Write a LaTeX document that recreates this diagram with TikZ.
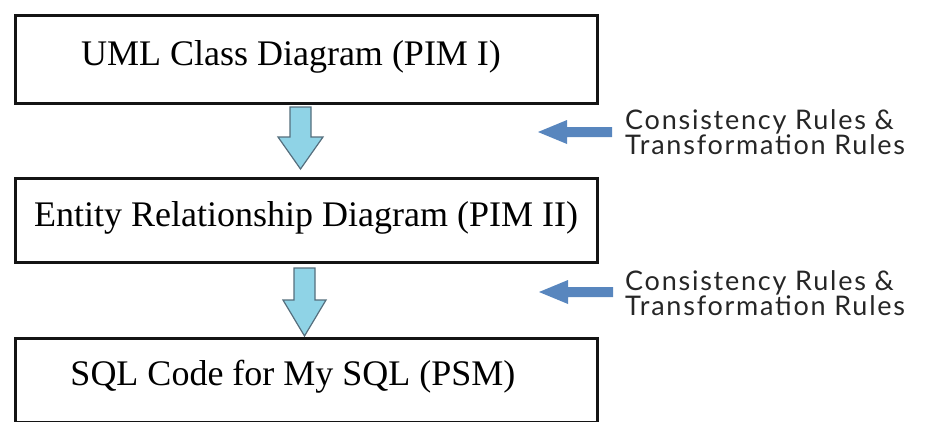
\documentclass[tikz,border=0pt]{standalone}
\usepackage{fontspec}
\setmainfont{Liberation Serif}
\newfontfamily\notefont[LetterSpace=6.5]{Lato}
\usetikzlibrary{calc}
\definecolor{boxline}{RGB}{20,20,20}
\definecolor{flowfill}{RGB}{143,211,230}
\definecolor{flowedge}{RGB}{85,110,125}
\definecolor{rulearrow}{RGB}{88,134,190}
\tikzset{
  stage/.style={draw=boxline, line width=3pt, minimum width=582pt, inner sep=0pt, anchor=north west},
  stagetext/.style={font=\fontsize{36}{40}\selectfont, inner sep=0pt},
  flowarrow/.style={fill=flowfill, draw=flowedge, line width=1.2pt, line join=miter},
  rulearr/.style={fill=rulearrow, draw=none},
  notetext/.style={font=\notefont\fontsize{27}{24}\selectfont, align=left, anchor=west, inner sep=0pt, text=black!85}
}
\begin{document}
\begin{tikzpicture}[x=1pt,y=-1pt]
  \useasboundingbox (0,0) rectangle (925,421);
  % stage boxes
  \node[stage, minimum height=88pt] (pim1) at (14,14) {};
  \node[stage, minimum height=84pt] (pim2) at (14,177) {};
  \node[stage, minimum height=84pt] (psm)  at (14,337) {};
  \node[stagetext] (t1) at (291,57) {UML Class Diagram (PIM I)};
  \node[stagetext] (t2) at (306,218) {Entity Relationship Diagram (PIM II)};
  \node[stagetext] (t3) at (293,377) {SQL Code for My SQL (PSM)};
  % downward block arrows between stages
  \draw[flowarrow] (290,107) -- (311,107) -- (311,137) -- (323,137) -- (300.5,169)
     -- (278,137) -- (290,137) -- cycle;
  \draw[flowarrow] (294,268) -- (315,268) -- (315,300) -- (326,300) -- (304.5,336)
     -- (283,300) -- (294,300) -- cycle;
  % rule arrows pointing at the transitions
  \fill[rulearr] (612,127) -- (567,127) -- (567,120) -- (538,132) -- (567,144)
     -- (567,137) -- (612,137) -- cycle;
  \fill[rulearr] (613,287) -- (568,287) -- (568,280) -- (539,292) -- (568,304)
     -- (568,297) -- (613,297) -- cycle;
  % rule notes
  \node[notetext] (n1) at (625,132) {Consistency Rules \&\\Transformation Rules};
  \node[notetext] (n2) at (625,293) {Consistency Rules \&\\Transformation Rules};
\end{tikzpicture}
\end{document}
